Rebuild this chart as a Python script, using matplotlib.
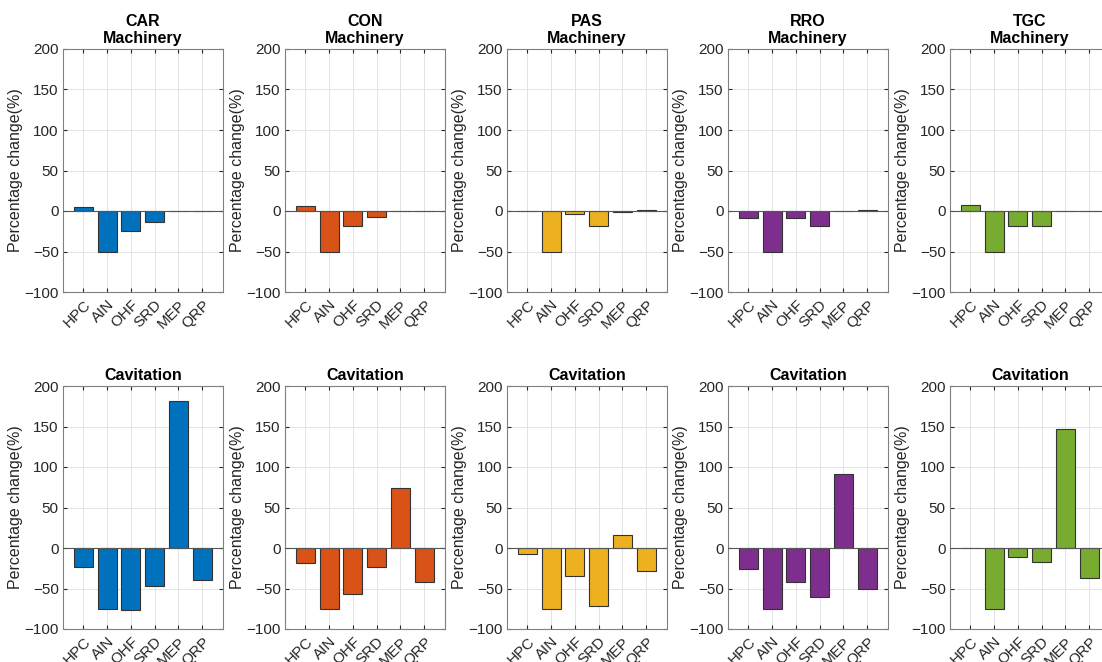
import numpy as np
import matplotlib
matplotlib.use("Agg")
import matplotlib.pyplot as plt

# categories and groups
labels = ["HPC", "AIN", "OHF", "SRD", "MEP", "QRP"]
groups = ["CAR", "CON", "PAS", "RRO", "TGC"]
colors = ["#0072BD", "#D95319", "#EDB120", "#7E2F8E", "#77AC30"]

# percentage change, machinery faults (top row)
car_mach = [5, -50, -25, -13, 0.3, 0.5]
con_mach = [6, -50, -18, -8, 0.3, 0.3]
pas_mach = [0.3, -50, -4, -18, -1, 1]
rro_mach = [-9, -50, -9, -18, 0.3, 1.5]
tgc_mach = [7, -50, -18, -19, 0.3, 0.3]

# percentage change, cavitation (bottom row)
car_cav = [-24, -75, -77, -47, 181, -39]
con_cav = [-18, -75, -57, -24, 74, -42]
pas_cav = [-8, -75, -35, -72, 16, -29]
rro_cav = [-26, -75, -42, -60, 91, -51]
tgc_cav = [0.5, -75, -11, -17, 147, -37]

mach = [car_mach, con_mach, pas_mach, rro_mach, tgc_mach]
cav = [car_cav, con_cav, pas_cav, rro_cav, tgc_cav]

plt.rcParams["font.family"] = ["Liberation Sans", "DejaVu Sans"]

W, H = 1102, 662
fig = plt.figure(figsize=(W / 100, H / 100), dpi=100)

lefts = [63, 285, 507, 728, 950]
aw = 160
rows = [(49, 292), (386, 629)]  # top, bottom in pixels

x = np.arange(1, 7)

for r, (top, bot) in enumerate(rows):
    data = mach if r == 0 else cav
    for i, g in enumerate(groups):
        ax = fig.add_axes([lefts[i] / W, 1 - bot / H, aw / W, (bot - top) / H])
        ax.bar(x, data[i], width=0.8, color=colors[i], edgecolor="#333333",
               linewidth=0.8, zorder=3)
        ax.axhline(0, color="#555555", linewidth=0.8, zorder=4)
        ax.set_xlim(0.15, 6.87)
        ax.set_ylim(-100, 200)
        ax.set_yticks([-100, -50, 0, 50, 100, 150, 200])
        ax.set_xticks(x)
        ax.set_xticklabels(labels, rotation=45, ha="right", rotation_mode="anchor")
        ax.grid(True, color="#e3e3e3", linewidth=0.7, zorder=0)
        ax.tick_params(direction="in", length=3, colors="#262626", labelsize=11,
                       top=True, right=True, pad=3)
        ax.tick_params(axis="x", pad=4)
        for s in ax.spines.values():
            s.set_color("#808080")
            s.set_linewidth(0.8)
        ax.set_ylabel("Percentage change(%)", fontsize=11.5, color="#262626", labelpad=1)
        if r == 0:
            ax.set_title(g + "\nMachinery", fontsize=11.5, fontweight="bold",
                         linespacing=1.2, pad=4)
        else:
            ax.set_title("Cavitation", fontsize=11.5, fontweight="bold", pad=4)

fig.savefig("out.png", dpi=100)
